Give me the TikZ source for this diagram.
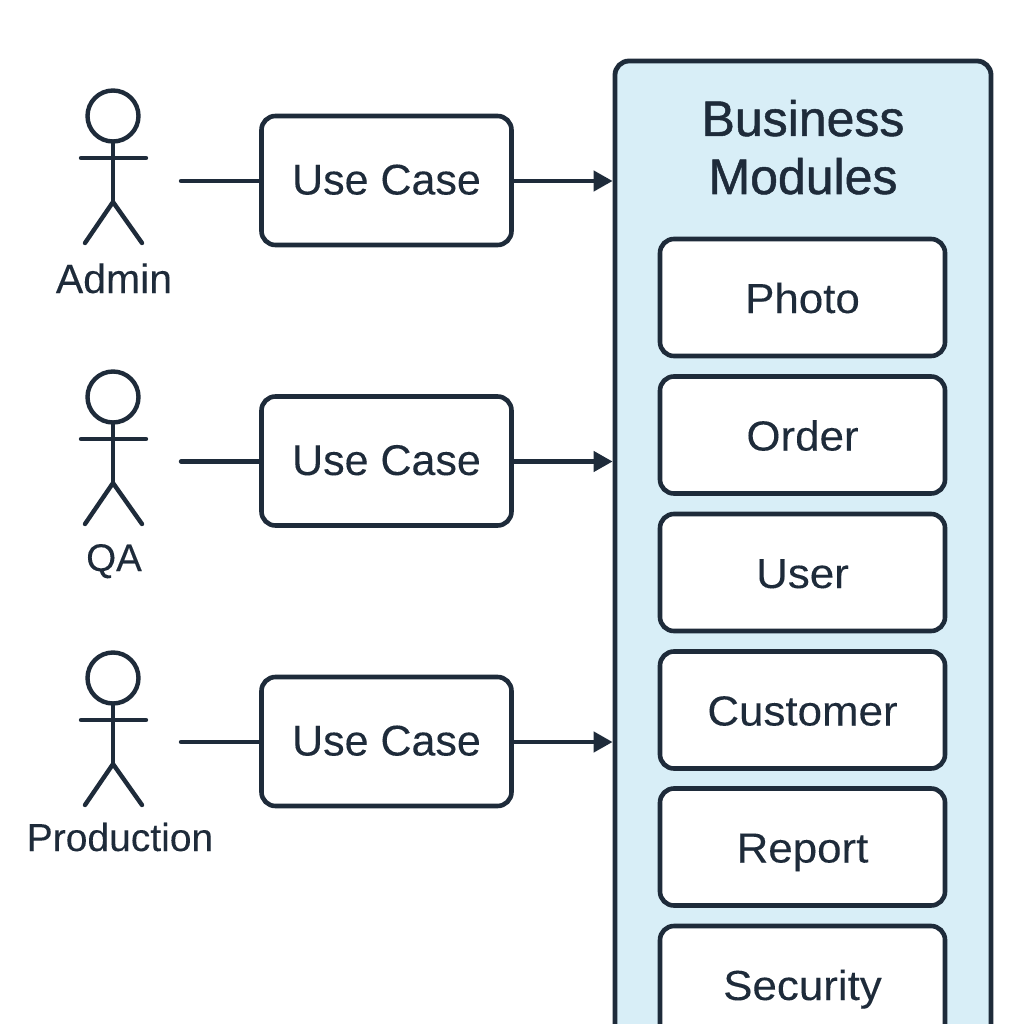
\documentclass[tikz,border=0pt]{standalone}
\usepackage{fontspec}
\setmainfont{Liberation Sans}
\newfontfamily\titlefont[FakeBold=1.0]{Liberation Sans}
\newfontfamily\widefont[FakeStretch=1.045,FakeBold=0.12]{Liberation Sans}
\newfontfamily\plainfont[FakeBold=0.12]{Liberation Sans}
\usetikzlibrary{arrows.meta}
\definecolor{ink}{HTML}{1E2B3A}
\definecolor{panelblue}{HTML}{D8EEF7}
\tikzset{
  x=1pt,y=-1pt,
  line/.style={draw=ink,line width=4.4pt,line cap=round,line join=round},
  panelbox/.style={draw=ink,line width=4.8pt,fill=panelblue,rounded corners=14pt,minimum width=376pt,minimum height=1100pt,inner sep=0pt},
  usecasebox/.style={draw=ink,line width=4.6pt,fill=white,rounded corners=14pt,minimum width=250pt,minimum height=129pt,inner sep=0pt,text height=28pt,text depth=0pt,text=ink,font=\plainfont\fontsize{43}{43}\selectfont},
  modulebox/.style={draw=ink,line width=4.6pt,fill=white,rounded corners=14pt,minimum width=285pt,minimum height=117pt,inner sep=0pt,text height=31pt,text depth=0pt,text=ink,font=\widefont\fontsize{42}{42}\selectfont},
  headcircle/.style={draw=ink,line width=4.4pt,circle,minimum size=51pt,inner sep=0pt},
  actorlabel/.style={anchor=base,text=ink,inner sep=0pt},
  titlelabel/.style={anchor=base,text=ink,inner sep=0pt,font=\titlefont\fontsize{50}{50}\selectfont},
  flow/.style={line,-{Triangle[length=19pt,width=20pt]},line cap=butt},
}
\newcommand{\actorfig}[3]{%
  \node[headcircle] (#1head) at (#2,#3) {};
  \coordinate (#1neck) at (#2,#3+42);
  \coordinate (#1larm) at (#2-32,#3+42);
  \coordinate (#1rarm) at (#2+33,#3+42);
  \coordinate (#1hip) at (#2,#3+86);
  \coordinate (#1lleg) at (#2-28,#3+127);
  \coordinate (#1rleg) at (#2+29,#3+127);
  \draw[line] (#1head.south) -- (#1hip);
  \draw[line] (#1larm) -- (#1rarm);
  \draw[line] (#1lleg) -- (#1hip) -- (#1rleg);
}
\begin{document}
\begin{tikzpicture}
\useasboundingbox (0,0) rectangle (1024,1024);
\fill[white] (0,0) rectangle (1024,1024);
\begin{scope}
\clip (0,0) rectangle (1024,1024);
\node[panelbox] (panel) at (803,611) {};
\node[titlelabel] (title1) at (803,136) {Business};
\node[titlelabel] (title2) at (803,194) {Modules};
\node[modulebox] (photo) at (802.5,297.5) {Photo};
\node[modulebox] (order) at (802.5,435) {Order};
\node[modulebox] (user) at (802.5,572.5) {User};
\node[modulebox] (customer) at (802.5,710) {Customer};
\node[modulebox] (report) at (802.5,847) {Report};
\node[modulebox] (security) at (802.5,984.5) {Security};
\end{scope}
\actorfig{a}{113}{116}
\actorfig{b}{113}{397}
\actorfig{c}{113}{678}
\node[actorlabel,font=\plainfont\fontsize{41}{41}\selectfont] (adminlabel) at (114,293) {Admin};
\node[actorlabel,font=\plainfont\fontsize{38.5}{38.5}\selectfont] (qalabel) at (114,571) {QA};
\node[actorlabel,font=\plainfont\fontsize{39}{39}\selectfont] (prodlabel) at (120,851) {Production};
\node[usecasebox] (uc1) at (386.5,180.5) {Use Case};
\node[usecasebox] (uc2) at (386.5,461) {Use Case};
\node[usecasebox] (uc3) at (386.5,741.5) {Use Case};
\coordinate (s1) at (181,181);
\coordinate (s2) at (181,461.5);
\coordinate (s3) at (181,742);
\draw[line] (s1) -- (s1 -| uc1.west);
\draw[line] (s2) -- (s2 -| uc2.west);
\draw[line] (s3) -- (s3 -| uc3.west);
\draw[flow] (s1 -| uc1.east) -- (s1 -| panel.west);
\draw[flow] (s2 -| uc2.east) -- (s2 -| panel.west);
\draw[flow] (s3 -| uc3.east) -- (s3 -| panel.west);
\end{tikzpicture}
\end{document}
